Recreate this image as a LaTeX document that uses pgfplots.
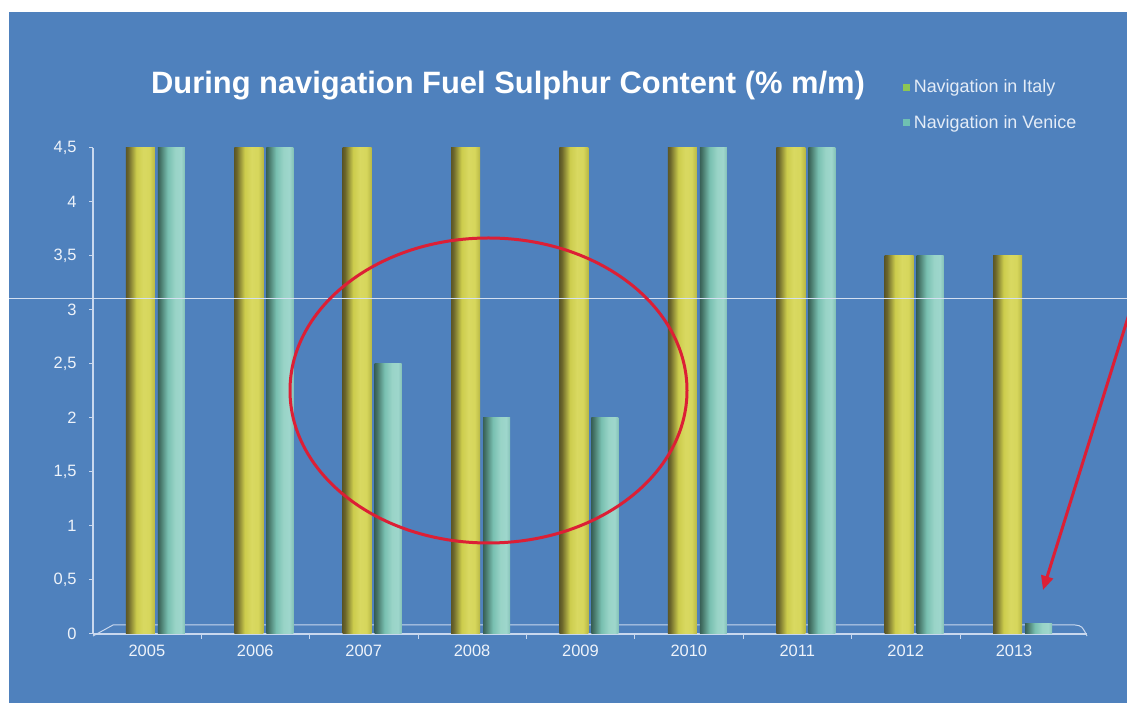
\documentclass[border=0pt]{standalone}
\usepackage{fontspec}
\setmainfont{Liberation Sans}
\usepackage{pgfplots}
\pgfplotsset{compat=1.18}
\usetikzlibrary{arrows.meta}
\definecolor{bgblue}{HTML}{4F81BD}
\definecolor{axisline}{HTML}{C9D8EE}
\definecolor{ticktext}{HTML}{EEF3FA}
\definecolor{legtext}{HTML}{E4ECF7}
\definecolor{italyLeg}{HTML}{8DC653}
\definecolor{venLeg}{HTML}{6FC0B2}
\definecolor{annred}{HTML}{DC1F35}
\pgfdeclarehorizontalshading{italyshade}{100bp}{%
  rgb(0bp)=(0.36,0.34,0.15); rgb(25bp)=(0.36,0.34,0.15); rgb(29bp)=(0.42,0.40,0.17);
  rgb(43bp)=(0.80,0.80,0.30); rgb(55bp)=(0.85,0.85,0.38); rgb(66bp)=(0.84,0.84,0.36);
  rgb(75bp)=(0.72,0.72,0.27); rgb(100bp)=(0.72,0.72,0.27)}
\pgfdeclarehorizontalshading{veniceshade}{100bp}{%
  rgb(0bp)=(0.22,0.38,0.34); rgb(25bp)=(0.22,0.38,0.34); rgb(29bp)=(0.27,0.45,0.40);
  rgb(43bp)=(0.47,0.75,0.69); rgb(57bp)=(0.60,0.83,0.78); rgb(68bp)=(0.62,0.84,0.80);
  rgb(75bp)=(0.52,0.76,0.72); rgb(100bp)=(0.52,0.76,0.72)}
\pgfplotsset{
  italy/.style={ybar, bar width=29bp, bar shift=-15.5bp, draw=none,
    shade, shading=italyshade, shading angle=0},
  venice/.style={ybar, bar width=27bp, bar shift=15.5bp, draw=none,
    shade, shading=veniceshade, shading angle=0},
}
\begin{document}
\begin{tikzpicture}[x=1bp,y=1bp]
\useasboundingbox (0,0) rectangle (1127,703);
\fill[white] (0,0) rectangle (1127,703);
\fill[bgblue] (9,0) rectangle (1127,691);
\node[text=white, font=\fontsize{31}{36}\selectfont\bfseries] at (508,617)
  {During navigation Fuel Sulphur Content (\% m/m)};
% 3D floor
\draw[axisline, line width=1bp] (93,67) -- (113,78) -- (1075,78)
  .. controls (1082,77) .. (1087,67);
\begin{axis}[
  at={(93bp,69bp)}, anchor=south west,
  scale only axis, width=994bp, height=486bp,
  xmin=-0.58, xmax=8.59, ymin=0, ymax=4.5,
  axis x line*=bottom, axis y line*=left,
  axis line style={color=axisline, line width=1.2bp},
  xtick={0,1,2,3,4,5,6,7,8},
  xticklabels={2005,2006,2007,2008,2009,2010,2011,2012,2013},
  minor xtick={0.42,1.42,2.42,3.42,4.42,5.42,6.42,7.42},
  major x tick style={draw=none},
  ytick={0,0.5,1,1.5,2,2.5,3,3.5,4,4.5},
  tick align=outside,
  tick style={color=axisline, line width=1bp},
  major tick length=4bp, minor tick length=5bp,
  /pgf/number format/assume math mode=true,
  /pgf/number format/use comma,
  every tick label/.append style={text=ticktext, font=\fontsize{16.5}{19}\selectfont},
  xticklabel style={xshift=-9bp, yshift=-4bp},
  yticklabel style={xshift=-9bp},
  clip=false,
  legend style={at={(0.815,1.148)}, anchor=north west, draw=none, fill=none,
    text=legtext, font=\fontsize{18}{21}\selectfont, row sep=14bp,
    inner sep=0pt, nodes={inner sep=3.5bp}},
  legend cell align=left,
]
\addplot[italy, legend image code/.code={\pgfsetfillcolor{italyLeg}\pgfpathrectangle{\pgfpoint{1bp}{-3.5bp}}{\pgfpoint{7bp}{7bp}}\pgfusepath{fill}}] coordinates {(0,4.5)};
\addlegendentry{Navigation in Italy}
\addplot[venice, legend image code/.code={\pgfsetfillcolor{venLeg}\pgfpathrectangle{\pgfpoint{1bp}{-3.5bp}}{\pgfpoint{7bp}{7bp}}\pgfusepath{fill}}] coordinates {(0,4.5)};
\addlegendentry{Navigation in Venice}
\addplot[italy, forget plot] coordinates {(1,4.5)};
\addplot[italy, forget plot] coordinates {(2,4.5)};
\addplot[italy, forget plot] coordinates {(3,4.5)};
\addplot[italy, forget plot] coordinates {(4,4.5)};
\addplot[italy, forget plot] coordinates {(5,4.5)};
\addplot[italy, forget plot] coordinates {(6,4.5)};
\addplot[italy, forget plot] coordinates {(7,3.5)};
\addplot[italy, forget plot] coordinates {(8,3.5)};
\addplot[venice, forget plot] coordinates {(1,4.5)};
\addplot[venice, forget plot] coordinates {(2,2.5)};
\addplot[venice, forget plot] coordinates {(3,2)};
\addplot[venice, forget plot] coordinates {(4,2)};
\addplot[venice, forget plot] coordinates {(5,4.5)};
\addplot[venice, forget plot] coordinates {(6,4.5)};
\addplot[venice, forget plot] coordinates {(7,3.5)};
\addplot[venice, forget plot] coordinates {(8,0.1)};
\end{axis}
% annotations
\draw[axisline!80!white, line width=0.7bp] (9,405) -- (1127,405);
\draw[annred, line width=3bp] (488.5,312.5) ellipse [x radius=198.5, y radius=152.5];
\draw[annred, line width=3bp, -{Triangle[length=14bp, width=12bp]}] (1135,408) -- (1043,113);
\end{tikzpicture}
\end{document}
